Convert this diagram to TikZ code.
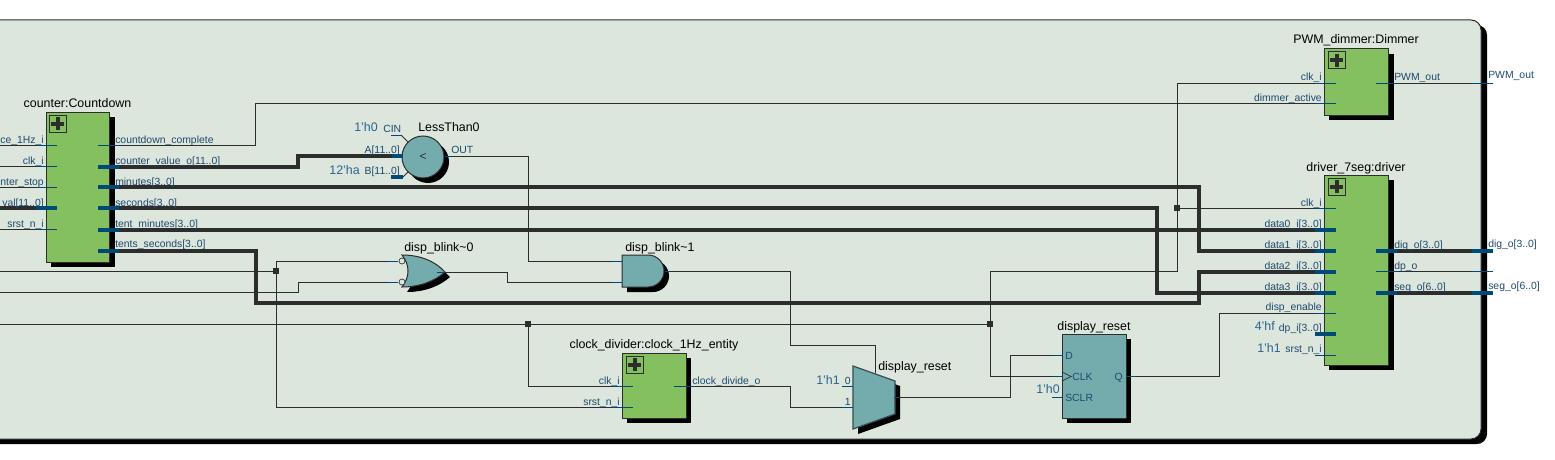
\documentclass[tikz,border=0pt]{standalone}
\usepackage{fontspec}
\setmainfont{Liberation Sans}
\definecolor{bgc}{HTML}{DCE6DC}
\definecolor{grn}{HTML}{85C060}
\definecolor{teal2}{HTML}{74ABAD}
\definecolor{bluep}{HTML}{004A78}
\definecolor{wirec}{HTML}{2D2D2D}
\definecolor{lblc}{HTML}{1F4A6E}
\definecolor{cnst}{HTML}{2A6490}
\tikzset{
  wire/.style={draw=wirec,line width=.7pt},
  bus/.style={draw=wirec,line width=3pt,line join=miter},
  stub/.style={draw=bluep,line width=.7pt},
  busstub/.style={draw=bluep,line width=3pt},
  hier/.style={draw=wirec,line width=.75pt,fill=grn,inner sep=0pt,outer sep=0pt,anchor=north west},
  prim/.style={draw=wirec,line width=.75pt,fill=teal2,inner sep=0pt,outer sep=0pt},
  junc/.style={fill=wirec,draw=none,minimum size=4.5pt,inner sep=0pt},
  portlbl/.style={text=lblc,font=\fontsize{7.8pt}{9pt}\selectfont,inner sep=0pt},
  ttl/.style={text=black,font=\fontsize{9.3pt}{11pt}\selectfont,inner sep=0pt},
  cnstlbl/.style={text=cnst,font=\fontsize{9.3pt}{11pt}\selectfont,inner sep=0pt,anchor=base east},
}
\newcommand{\pr}[4]{\node[portlbl,anchor=base east] (#1) at (#2,#3) {#4};}
\newcommand{\pl}[4]{\node[portlbl,anchor=base west] (#1) at (#2,#3) {#4};}
\newcommand{\tl}[4]{\node[ttl,anchor=base] (#1) at (#2,#3) {#4};}
\newcommand{\tw}[4]{\node[ttl,anchor=base west] (#1) at (#2,#3) {#4};}
\newcommand{\cn}[4]{\node[cnstlbl] (#1) at (#2,#3) {#4};}
\newcommand{\plusicon}[2]{%
  \draw[wirec,line width=.75pt] (#1,#2) rectangle ++(17,17);
  \draw[wirec,line width=3pt] (#1+2,#2+8.5) -- (#1+15,#2+8.5);
  \draw[wirec,line width=3pt] (#1+8.5,#2+2) -- (#1+8.5,#2+15);
}
\begin{document}
\begin{tikzpicture}[x=.75pt,y=-.75pt]
\useasboundingbox (0,0) rectangle (1555,460);
\clip (0,0) rectangle (1555,460);
% frame
\fill[black,rounded corners=7.5pt] (-20,25) -- (1487,25) -- (1487,444) -- (-20,444) -- cycle;
\draw[wirec,fill=bgc,line width=.75pt,rounded corners=7.5pt] (-20,20) -- (1481,20) -- (1481,439) -- (-20,439) -- cycle;

% block shadows
\fill[black] (51,117) rectangle (115,267);
\fill[black] (1329,54) rectangle (1394,120);
\fill[black] (1329,180) rectangle (1394,370);
\fill[black] (627,358) rectangle (691,423);
\fill[black] (1067,339) rectangle (1131,423);
\fill[black] (428,162) circle[radius=21];

% blocks
\node[hier,minimum width=63*.75pt,minimum height=150*.75pt] (counter) at (46,112) {};
\node[hier,minimum width=64*.75pt,minimum height=66*.75pt] (dimmer) at (1324,49) {};
\node[hier,minimum width=64*.75pt,minimum height=190*.75pt] (driver) at (1324,175) {};
\node[hier,minimum width=64*.75pt,minimum height=65*.75pt] (clkdiv) at (622,353) {};
\node[prim,anchor=north west,minimum width=64*.75pt,minimum height=84*.75pt] (dff) at (1062,334) {};
\node[prim,circle,minimum size=42*.75pt,font=\fontsize{9pt}{10pt}\selectfont,text=wirec] (lt) at (423,157) {<};
\plusicon{49}{115}
\plusicon{1328}{52}
\plusicon{1328}{178}
\plusicon{626}{356}

% OR gate
\fill[black] (407,260) .. controls (425,260) and (440,266) .. (450,277) .. controls (440,286) and (425,292) .. (407,292) .. controls (415,282) and (415,270) .. (407,260) -- cycle;
\draw[prim] (402,255) .. controls (420,255) and (435,261) .. (445,272) .. controls (435,281) and (420,287) .. (402,287) .. controls (410,277) and (410,265) .. (402,255) -- cycle;
% AND gate
\fill[black] (627,260) -- (653,260) arc[start angle=90,end angle=-90,x radius=16,y radius=-16] -- (627,292) -- cycle;
\draw[prim] (622,255) -- (648,255) arc[start angle=90,end angle=-90,x radius=16,y radius=-16] -- (622,287) -- cycle;
% mux
\fill[black] (858,371) -- (900,386) -- (900,419) -- (858,434) -- cycle;
\draw[fill=teal2,draw=black!55!teal2,line width=.9pt] (853,366) -- (895,381) -- (895,414) -- (853,429) -- cycle;

% ports
\coordinate (ceI) at (57,145); \coordinate (clkI) at (57,166); \coordinate (stopI) at (57,187);
\coordinate (valI) at (57,208); \coordinate (srstI) at (57,229);
\coordinate (ceE) at (0,145); \coordinate (clkE) at (0,166); \coordinate (stopE) at (0,187);
\coordinate (valE) at (0,208); \coordinate (srstE) at (0,229);
\coordinate (cdO) at (98,145); \coordinate (cvO) at (98,167); \coordinate (minO) at (98,187);
\coordinate (secO) at (98,208); \coordinate (tmO) at (98,230); \coordinate (tsO) at (98,251);
\coordinate (ltA) at (403,156); \coordinate (ltB) at (403,177); \coordinate (ltC) at (401,135); \coordinate (ltO) at (445,156);
\coordinate (orA) at (398,261); \coordinate (orB) at (398,282); \coordinate (orO) at (437,272);
\coordinate (andA) at (622,261); \coordinate (andB) at (622,282); \coordinate (andO) at (665,271);
\coordinate (cdClk) at (633,386); \coordinate (cdSr) at (633,407); \coordinate (cdOut) at (674,386);
\coordinate (muxS) at (875,373); \coordinate (mux0) at (853,386); \coordinate (mux1) at (853,407); \coordinate (muxO) at (894,397);
\coordinate (ffD) at (1063,355); \coordinate (ffC) at (1063,376); \coordinate (ffR) at (1062,397); \coordinate (ffQ) at (1126,376);
\coordinate (pwmClk) at (1336,83); \coordinate (pwmAct) at (1336,103); \coordinate (pwmOut) at (1376,83);
\coordinate (dClk) at (1336,208); \coordinate (d0) at (1336,230); \coordinate (d1) at (1336,251); \coordinate (d2) at (1336,272);
\coordinate (d3) at (1336,293); \coordinate (dEn) at (1336,313); \coordinate (dDp) at (1336,334); \coordinate (dSr) at (1336,355);
\coordinate (oDig) at (1376,251); \coordinate (oDp) at (1376,271); \coordinate (oSeg) at (1376,293);
\coordinate (xDig) at (1493,251); \coordinate (xDp) at (1493,271); \coordinate (xSeg) at (1493,293); \coordinate (xPwm) at (1493,83);
\coordinate (blinkE) at (0,271); \coordinate (stopE2) at (0,292); \coordinate (rstE) at (0,324);

% junctions
\node[junc] (j1) at (276,271) {};
\node[junc] (j2) at (528,324) {};
\node[junc] (j3) at (990,324) {};
\node[junc] (j4) at (1177,208) {};

% thin wires
\draw[wire] (ceE) -- (ceI);
\draw[wire] (clkE) -- (clkI);
\draw[wire] (stopE) -- (stopI);
\draw[wire] (srstE) -- (srstI);
\draw[wire] (cdO) -- (255,145) -- (255,103) -- (pwmAct);
\draw[wire] (ltO) -- (528,156) -- (528,261) -- (andA);
\draw[wire] (blinkE) -- (j1);
\draw[wire] (j1) -- (276,261) -- (orA);
\draw[wire] (j1) -- (276,407) -- (cdSr);
\draw[wire] (stopE2) -- (298,292) -- (298,282) -- (orB);
\draw[wire] (orO) -- (507,272) -- (507,282) -- (andB);
\draw[wire] (andO) -- (790,271) -- (790,345) -- (875,345) -- (muxS);
\draw[wire] (rstE) -- (j2) -- (j3);
\draw[wire] (j2) -- (528,386) -- (cdClk);
\draw[wire] (cdOut) -- (790,386) -- (790,407) -- (mux1);
\draw[wire] (muxO) -- (1010,397) -- (1010,355) -- (ffD);
\draw[wire] (j3) -- (990,376) -- (ffC);
\draw[wire] (j3) -- (990,271) -- (1177,271) -- (1177,83) -- (pwmClk);
\draw[wire] (j4) -- (dClk);
\draw[wire] (ffQ) -- (1219,376) -- (1219,313) -- (dEn);
\draw[wire] (oDp) -- (xDp);
\draw[wire] (pwmOut) -- (xPwm);

% buses
\draw[bus] (valE) -- (valI);
\draw[bus] (cvO) -- (298,167) -- (298,156) -- (ltA);
\draw[bus] (minO) -- (1199,187) -- (1199,251) -- (d1);
\draw[bus] (secO) -- (1157,208) -- (1157,293) -- (d3);
\draw[bus] (tmO) -- (d0);
\draw[bus] (tsO) -- (256,251) -- (256,303) -- (1199,303) -- (1199,272) -- (d2);
\draw[bus] (oDig) -- (xDig);
\draw[bus] (oSeg) -- (xSeg);

% stubs
\foreach \p in {ceI,clkI,stopI,srstI,pwmClk,pwmAct,dClk,dEn,dSr,cdClk,cdSr}
  \draw[stub] (\p) -- ++(-21,0);
\foreach \p in {valI,d0,d1,d2,d3,dDp}
  \draw[busstub] (\p) -- ++(-21,0);
\foreach \p in {cdO,pwmOut,oDp,cdOut}
  \draw[stub] (\p) -- ++(21,0);
\foreach \p in {cvO,minO,secO,tmO,tsO,oDig,oSeg}
  \draw[busstub] (\p) -- ++(21,0);
\foreach \p in {xDig,xSeg}
  \draw[busstub] (\p) -- ++(-21,0);
\draw[stub] (xDp) -- ++(-21,0);
\draw[stub] (xPwm) -- ++(-21,0);
\draw[busstub] (ltA) -- ++(-11,0);
\draw[busstub] (ltB) -- ++(-12,0);
\draw[stub] (ltC) -- ++(-10,0);
\draw[wire] (ltC) -- (408,142);
\draw[wire] (ltB) -- (408,172);
\draw[stub] (ltO) -- ++(5,0);
\draw[stub] (orA) -- ++(-10,0);
\draw[stub] (orB) -- ++(-10,0);
\draw[stub] (orO) -- ++(8,0);
\draw[stub] (andA) -- ++(-10,0);
\draw[stub] (andB) -- ++(-10,0);
\draw[stub] (andO) -- ++(5,0);
\draw[stub] (mux0) -- ++(-11,0);
\draw[stub] (mux1) -- ++(-11,0);
\draw[stub] (muxO) -- ++(5,0);
\draw[stub] (ffD) -- ++(-10,0);
\draw[stub] (ffC) -- ++(-10,0);
\draw[stub] (ffR) -- ++(-10,0);
\draw[stub] (ffQ) -- ++(11,0);
\draw[wire,line width=.5pt] (1062,372) -- (1071,376.5) -- (1062,381);
% inverting bubbles
\draw[wirec,fill=bgc,line width=.5pt] (402,261) circle[radius=3];
\draw[wirec,fill=bgc,line width=.5pt] (402,282) circle[radius=3];

% titles
\tl{tCounter}{77.5}{108}{counter:Countdown}
\tl{tDimmer}{1356}{44}{PWM\_dimmer:Dimmer}
\tl{tDriver}{1356}{171}{driver\_7seg:driver}
\tl{tClkdiv}{654}{348}{clock\_divider:clock\_1Hz\_entity}
\tl{tDff}{1094}{330}{display\_reset}
\tw{tLt}{418}{131}{LessThan0}
\tw{tOr}{404}{251}{disp\_blink\textasciitilde 0}
\tw{tAnd}{625}{251}{disp\_blink\textasciitilde 1}
\tw{tMux}{878}{370}{display\_reset}

% counter labels
\pr{a1}{44}{143}{ce\_1Hz\_i}
\pr{a2}{44}{164}{clk\_i}
\pr{a3}{44}{185}{nter\_stop}
\pr{a4}{44}{206}{val[11..0]}
\pr{a5}{44}{227}{srst\_n\_i}
\pl{b1}{115}{143}{countdown\_complete}
\pl{b2}{115}{164}{counter\_value\_o[11..0]}
\pl{b3}{115}{185}{minutes[3..0]}
\pl{b4}{115}{206}{seconds[3..0]}
\pl{b5}{115}{227}{tent\_minutes[3..0]}
\pl{b6}{115}{247}{tents\_seconds[3..0]}
% comparator labels
\cn{k1}{378}{131}{1'h0}
\pl{c1}{383}{132}{CIN}
\pr{c2}{400}{153}{A[11..0]}
\cn{k2}{360}{174}{12'ha}
\pr{c3}{400}{174}{B[11..0]}
\pl{c4}{451}{153}{OUT}
% clock divider labels
\pr{e1}{620}{384}{clk\_i}
\pr{e2}{620}{405}{srst\_n\_i}
\pl{e3}{692}{384}{clock\_divide\_o}
% mux labels
\cn{k3}{840}{384}{1'h1}
\pr{f1}{851}{384}{0}
\pr{f2}{851}{405}{1}
% flip-flop labels
\pl{g1}{1065}{359}{D}
\pl{g2}{1072}{380}{CLK}
\pl{g3}{1065}{401}{SCLR}
\pr{g4}{1123}{380}{Q}
\cn{k4}{1060}{393}{1'h0}
% dimmer labels
\pr{h1}{1322}{80}{clk\_i}
\pr{h2}{1322}{101}{dimmer\_active}
\pl{h3}{1394}{80}{PWM\_out}
\pl{h4}{1488}{79}{PWM\_out}
% driver labels
\pr{i1}{1322}{206}{clk\_i}
\pr{i2}{1322}{227}{data0\_i[3..0]}
\pr{i3}{1322}{248}{data1\_i[3..0]}
\pr{i4}{1322}{269}{data2\_i[3..0]}
\pr{i5}{1322}{290}{data3\_i[3..0]}
\pr{i6}{1322}{310}{disp\_enable}
\pr{i7}{1322}{331}{dp\_i[3..0]}
\pr{i8}{1322}{352}{srst\_n\_i}
\cn{k5}{1275}{330}{4'hf}
\cn{k6}{1281}{352}{1'h1}
\pl{i9}{1394}{248}{dig\_o[3..0]}
\pl{i10}{1394}{269}{dp\_o}
\pl{i11}{1394}{290}{seg\_o[6..0]}
\pl{i12}{1488}{247}{dig\_o[3..0]}
\pl{i13}{1488}{289}{seg\_o[6..0]}
\end{tikzpicture}
\end{document}
